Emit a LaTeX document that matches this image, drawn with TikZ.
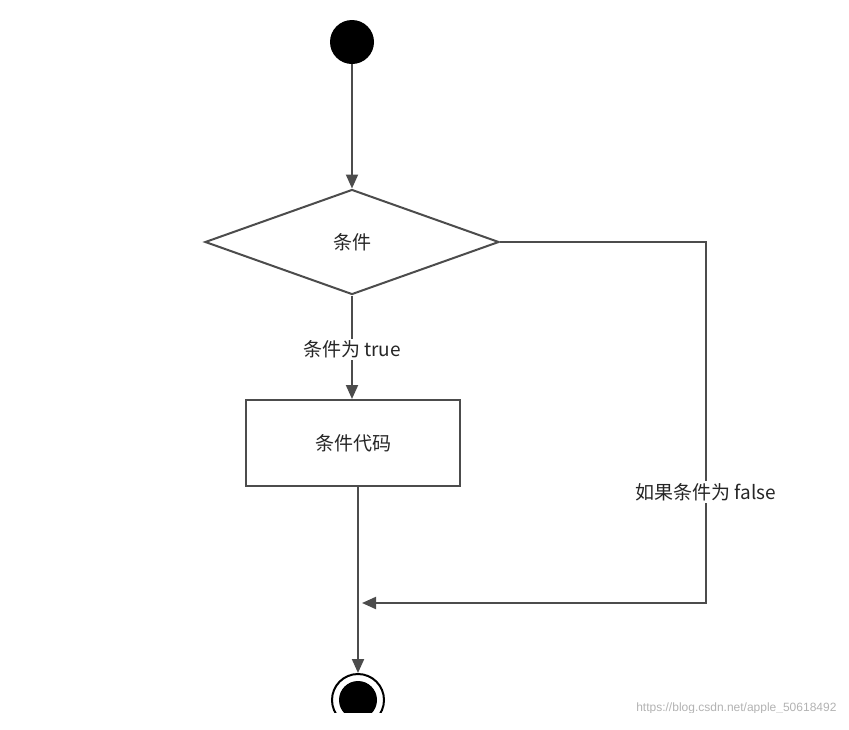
\documentclass[tikz,border=0pt]{standalone}
\usepackage{fontspec}
\setmainfont{Liberation Sans}
\newfontfamily\cjk{Noto Sans CJK SC}
\usetikzlibrary{shapes.geometric,arrows.meta}
\begin{document}
\begin{tikzpicture}[x=1pt,y=-1pt,
  ln/.style={draw=black!70,line width=2pt},
  arr/.style={ln,-{Triangle[length=14pt,width=12pt]}},
  lbl/.style={font=\cjk\fontsize{19}{22}\selectfont,text=black!85}]
\useasboundingbox (0,0) rectangle (849,729);
\clip (0,0) rectangle (849,712);
\node[circle,fill=black,minimum size=44pt,inner sep=0] (start) at (352,42) {};
\node[diamond,ln,fill=white,minimum width=294pt,minimum height=105pt,aspect=2.8,inner sep=0] (cond) at (352,242) {};
\node[lbl] at (cond) {条件};
\node[ln,fill=white,minimum width=214pt,minimum height=86pt,inner sep=0,lbl] (code) at (353,443) {条件代码};
\node[circle,draw=black,line width=2pt,minimum size=52pt,inner sep=0] (end) at (358,700) {};
\node[circle,fill=black,minimum size=38pt,inner sep=0] at (end) {};
\coordinate (c1) at (706,242);
\coordinate (c2) at (706,603);
\coordinate (m) at (362,603);
\draw[arr] (start) -- (cond);
\draw[arr] (cond.south) -- (cond.south|-code.north) node[pos=0.52,fill=white,lbl,inner sep=2pt] {条件为 true};
\draw[arr] (code.south -| end.north) -- (end.north);
\draw[arr] (cond.east) -- (c1) -- (c2) -- (m) ;
\node[fill=white,lbl,inner sep=2pt] at (706,492) {如果条件为 false};
\node[font=\fontsize{12}{14}\selectfont,text=black!30,anchor=east] at (840,708) {https://blog.csdn.net/apple\_50618492};
\end{tikzpicture}
\end{document}
